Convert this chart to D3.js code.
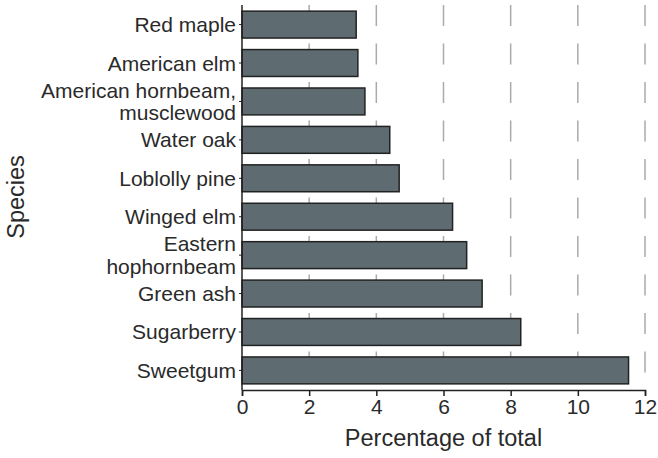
<!DOCTYPE html>
<html><head><meta charset="utf-8">
<script src="https://cdn.jsdelivr.net/npm/d3@7"></script>
<style>body{margin:0;background:#fff}svg{display:block}text{font-family:"Liberation Sans",Arial,sans-serif;fill:#2a2a2a}</style>
</head><body><svg id="c" width="658" height="458"></svg>
<script>
const species = [["Red maple"],["American elm"],["American hornbeam,","musclewood"],["Water oak"],["Loblolly pine"],["Winged elm"],["Eastern","hophornbeam"],["Green ash"],["Sugarberry"],["Sweetgum"]];
const values = [3.4, 3.45, 3.66, 4.4, 4.68, 6.27, 6.69, 7.15, 8.3, 11.51];
const xTicks = [0,2,4,6,8,10,12];
const xTitle = "Percentage of total";
const yTitle = "Species";

(function(){
const svg = d3.select("#c");
const mL = 242, mR = 645, mT = 5, mB = 390;
const x = d3.scaleLinear().domain([0,12]).range([mL,mR]);
const keys = species.map((d,i)=>i);
const y = d3.scaleBand().domain(keys).range([mT,mB]).paddingInner(0.3).paddingOuter(0.16);

// grid
svg.append("g").selectAll("line").data(xTicks.filter(t=>t>0)).join("line")
  .attr("x1",d=>x(d)).attr("x2",d=>x(d)).attr("y1",mT).attr("y2",mB)
  .attr("stroke","#aaaaaa").attr("stroke-width",1.5).attr("stroke-dasharray","21,17.5");

// bars
svg.append("g").selectAll("rect").data(values).join("rect")
  .attr("x",x(0)).attr("y",(d,i)=>y(i)).attr("width",d=>x(d)-x(0)).attr("height",y.bandwidth())
  .attr("fill","#5e6b71").attr("stroke","#222").attr("stroke-width",1.5);

// x axis
const xa = svg.append("g").attr("transform",`translate(0,${mB})`)
  .call(d3.axisBottom(x).tickValues(xTicks).tickSize(6).tickPadding(3));
xa.select(".domain").attr("stroke","#222").attr("stroke-width",1.5);
xa.selectAll(".tick line").attr("stroke","#222").attr("stroke-width",1.5);
xa.selectAll(".tick text").attr("font-size",21).attr("dy","0.72em");

// y axis
const ya = svg.append("g").attr("transform",`translate(${mL},0)`)
  .call(d3.axisLeft(y).tickSize(3).tickFormat(""));
ya.select(".domain").attr("stroke","#222").attr("stroke-width",1.5).attr("d",`M0,${mT}V${mB}`);
ya.selectAll(".tick line").attr("stroke","#222").attr("stroke-width",1);

// category labels
const lab = svg.append("g").selectAll("text").data(species).join("text")
  .attr("x",236).attr("text-anchor","end").attr("font-size",21)
  .attr("y",(d,i)=>y(i)+y.bandwidth()/2);
lab.each(function(d){
  const t=d3.select(this); const n=d.length; const lh=22.5;
  d.forEach((s,j)=>{
    t.append("tspan").attr("x",236).attr("dy", j===0 ? (-(n-1)*lh/2 + 7.5) : lh).text(s);
  });
});

svg.append("text").attr("x",(mL+mR)/2).attr("y",446).attr("text-anchor","middle").attr("font-size",23.5).text(xTitle);
svg.append("text").attr("transform","translate(24,197) rotate(-90)").attr("text-anchor","middle").attr("font-size",23.5).text(yTitle);
})();
</script></body></html>
